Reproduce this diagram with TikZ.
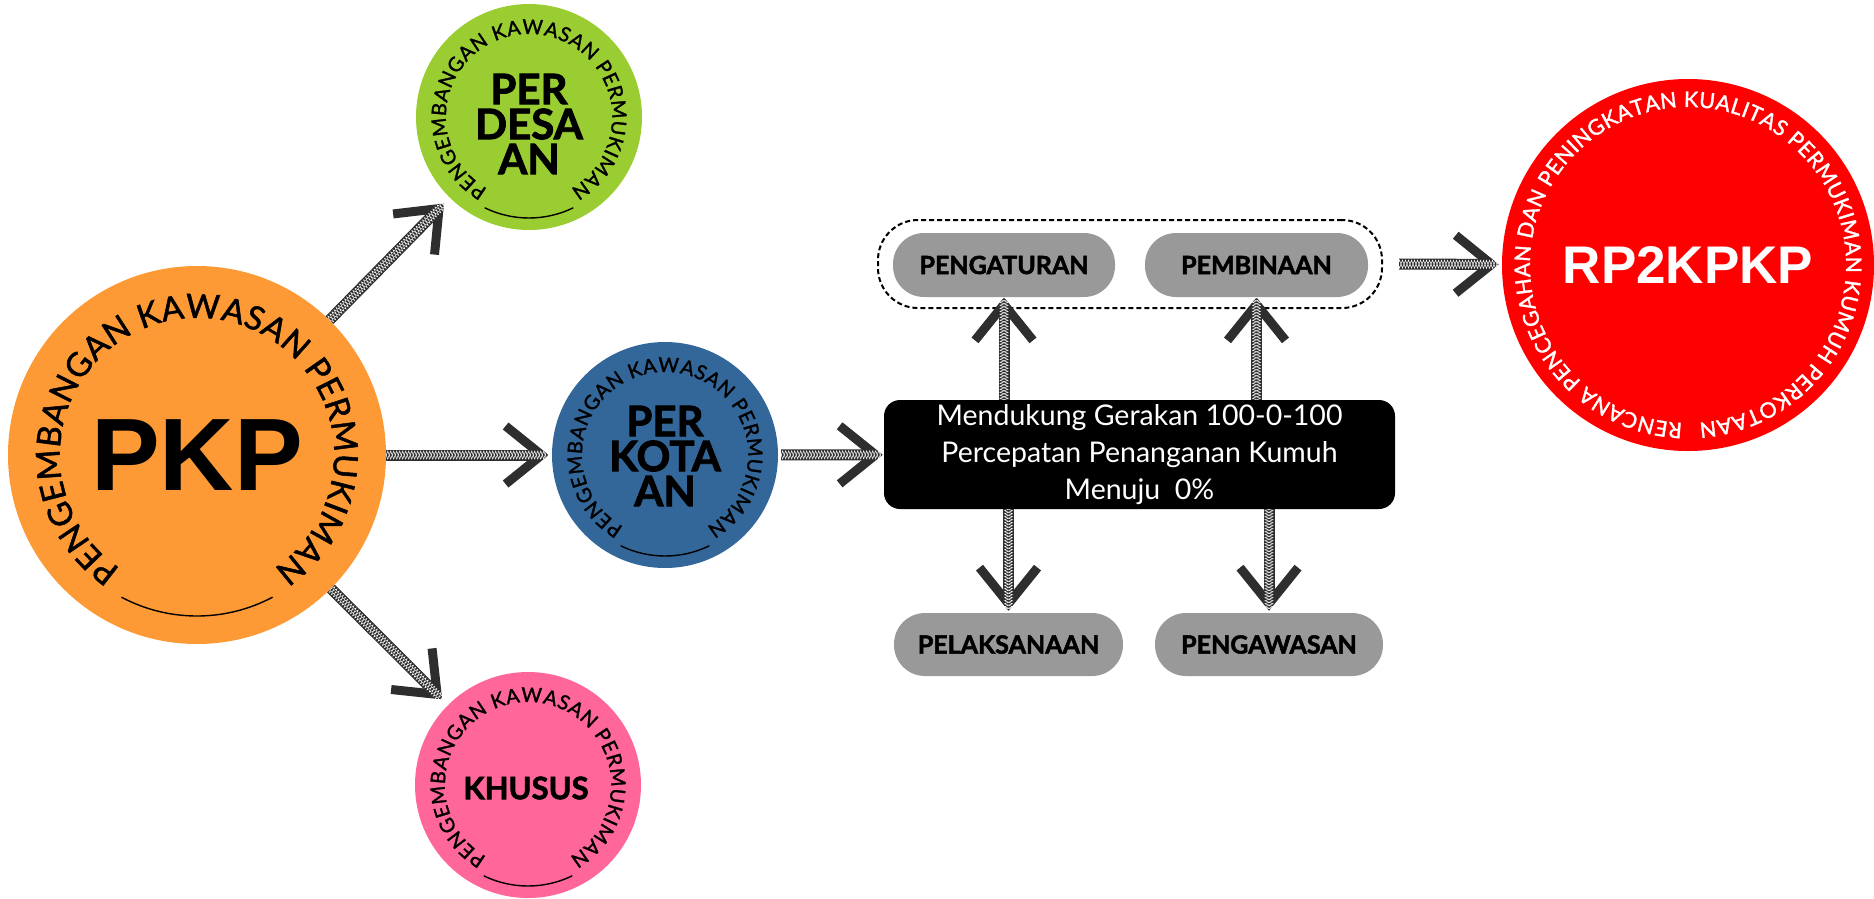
\documentclass[tikz,border=0pt]{standalone}
\usepackage{fontspec}
\setmainfont{Lato}
\newfontfamily\lato{Lato}
\newfontfamily\latoheavy[BoldFeatures={FakeBold=2}]{Lato}
\newfontfamily\arialb{Liberation Sans}
\newfontfamily\circfont[FakeBold=1.5]{Lato}
\usetikzlibrary{arrows.meta,decorations.text,decorations.pathmorphing,calc,shapes.misc}
\definecolor{pkporange}{HTML}{FD9A35}
\definecolor{desagreen}{HTML}{9ACD32}
\definecolor{kotablue}{HTML}{336699}
\definecolor{khususpink}{HTML}{FF6699}
\definecolor{rpred}{HTML}{FF0000}
\definecolor{pillgray}{HTML}{999999}
\newcommand\ringtext[7]{%
  \path[decorate, decoration={text along path, text align=fit to path,
    text={|\circfont\fontsize{#5}{#5}\selectfont\color{#7}|#6}}]
    ($(#1)+(#3:#2)$) arc[start angle=#3, end angle=#4, radius=#2];}
\newcommand\ringline[4]{%
  \draw[line width=1.4pt] ($(#1)+(#3:#2)$) arc[start angle=#3, end angle=#4, radius=#2];}
\tikzset{
  disc/.style={circle, inner sep=0pt},
  bigdisc/.style={disc, minimum size=378pt},
  smalldisc/.style={disc, minimum size=226pt},
  centertext/.style={align=center, font=\latoheavy\bfseries\fontsize{42}{35}\selectfont},
  pill/.style={fill=pillgray, rounded corners=31pt, minimum height=64pt, inner sep=0pt,
    font=\latoheavy\bfseries\fontsize{25}{25}\selectfont},
  sk/.style={draw=black!82, line width=11pt,
    -{Straight Barb[length=36pt,width=58pt,line width=9pt]},
    postaction={draw=white, line width=0.5pt, arrows=-, decorate,
      decoration={zigzag, segment length=6pt, amplitude=4pt}},
    postaction={draw=white, line width=0.5pt, arrows=-, decorate,
      decoration={zigzag, segment length=6pt, amplitude=4pt, mirror}}},
}
\begin{document}
\begin{tikzpicture}[x=1pt,y=-1pt]
\useasboundingbox (0,0) rectangle (1874,898);

% circles
\node[bigdisc, fill=pkporange, font=\arialb\bfseries\fontsize{103}{103}\selectfont] (pkp) at (197,455) {PKP};
\node[smalldisc, fill=desagreen] (desa) at (529,117) {};
\node[smalldisc, fill=kotablue] (kota) at (665,455) {};
\node[smalldisc, fill=khususpink] (khusus) at (528,785) {};
\node[disc, minimum size=372pt, fill=rpred, text=white, font=\arialb\bfseries\fontsize{53}{53}\selectfont] (rp) at (1688,265) {RP2KPKP};

\node[centertext] (desat) at (529,124) {PER\\DESA\\AN};
\node[centertext] (kotat) at (665,456) {PER\\KOTA\\AN};
\node[font=\latoheavy\bfseries\fontsize{31}{31}\selectfont] (khusust) at (526,788) {KHUSUS};

% ring texts
\ringtext{pkp}{137pt}{236}{-56}{33}{PENGEMBANGAN KAWASAN PERMUKIMAN}{black}
\ringline{pkp}{161pt}{242}{298}
\ringtext{desa}{83pt}{240}{-60}{20}{PENGEMBANGAN KAWASAN PERMUKIMAN}{black}
\ringline{desa}{101pt}{244}{296}
\ringtext{kota}{83pt}{240}{-60}{20}{PENGEMBANGAN KAWASAN PERMUKIMAN}{black}
\ringline{kota}{101pt}{244}{296}
\ringtext{khusus}{83pt}{240}{-60}{20}{PENGEMBANGAN KAWASAN PERMUKIMAN}{black}
\ringline{khusus}{101pt}{244}{296}
\ringtext{rp}{158pt}{268}{-86}{21.5}{RENCANA PENCEGAHAN DAN PENINGKATAN KUALITAS PERMUKIMAN KUMUH PERKOTAAN}{white}

% center block
\node[draw, line width=2pt, dash pattern=on 5pt off 3pt, rounded corners=40pt,
  minimum width=504pt, minimum height=88pt] (group) at (1130,264) {};
\node[pill, minimum width=222pt] (peng) at (1004,265) {PENGATURAN};
\node[pill, minimum width=223pt] (pemb) at (1256.5,265) {PEMBINAAN};
\node[pill, minimum width=229pt, minimum height=63pt] (pelak) at (1008.5,644.5) {PELAKSANAAN};
\node[pill, minimum width=228pt, minimum height=63pt] (pengaw) at (1269,644.5) {PENGAWASAN};
\node[fill=black, rounded corners=16pt, minimum width=511pt, minimum height=109pt,
  text=white, align=center, inner sep=0pt, font=\lato\fontsize{28.5}{37}\selectfont]
  (box) at (1139.5,454.5) {Mendukung Gerakan 100-0-100\\Percepatan Penanganan Kumuh\\Menuju\ \ 0\%};

% connectors
\draw[sk, shorten >=8pt] (pkp) -- (desa);
\draw[sk, shorten >=8pt] (pkp) -- (khusus);
\draw[sk, shorten >=3pt] (pkp) -- (kota);
\draw[sk, shorten <=3pt, shorten >=1pt] (kota) -- (box);
\draw[sk, shorten <=16pt, shorten >=3pt] (group.east) -- (rp);
\draw[sk] (peng |- box.north) -- (peng.south);
\draw[sk] (pemb |- box.north) -- (pemb.south);
\draw[sk, shorten >=2pt] (pelak |- box.south) -- (pelak.north);
\draw[sk, shorten >=2pt] (pengaw |- box.south) -- (pengaw.north);
\end{tikzpicture}
\end{document}
